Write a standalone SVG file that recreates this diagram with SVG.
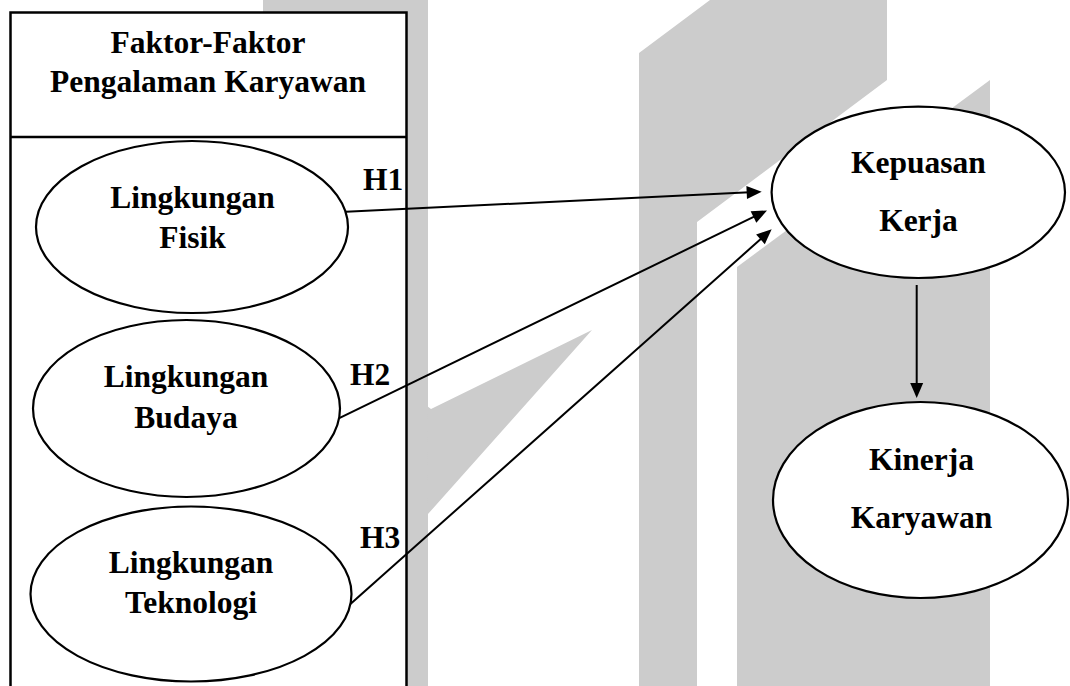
<svg xmlns="http://www.w3.org/2000/svg" width="1070" height="686" viewBox="0 0 1070 686">
<style>
.wm{fill:#cccccc;stroke:none}
.node{fill:#ffffff;stroke:#000000;stroke-width:2.2}
.box{fill:#ffffff;stroke:#000000;stroke-width:2.5}
text{font-family:'Liberation Serif','Times New Roman','DejaVu Serif',serif;font-weight:700;font-size:31.5px;fill:#000000}
.t{text-anchor:middle}
.edge{stroke:#000000;stroke-width:2;fill:none;marker-end:url(#ah)}
</style>
<defs>
<marker id="ah" markerUnits="userSpaceOnUse" markerWidth="16" markerHeight="14" refX="3" refY="6.5" orient="auto" overflow="visible">
<path d="M0,0 L15,6.5 L0,13 z" fill="#000000"/>
</marker>
</defs>
<rect width="1070" height="686" fill="#ffffff"/>
<g id="watermark">
<rect class="wm" x="263" y="0" width="165" height="686"/>
<polygon class="wm" points="427,406 431,409 592,330 428,514"/>
<polygon class="wm" points="639,686 639,53 710,0 887,0 887,80 697,222 697,686"/>
<polygon class="wm" points="737,686 737,267 990,80 990,686"/>
</g>
<g id="factor-box" font-family="Liberation Serif, serif">
<rect class="box" x="10.5" y="12.5" width="396" height="690"/>
<line x1="10.5" y1="137" x2="406.5" y2="137" stroke="#000" stroke-width="2.5"/>
<text class="t" x="208" y="53">Faktor-Faktor</text>
<text class="t" x="208" y="92">Pengalaman Karyawan</text>
</g>
<g id="connectors">
<line class="edge" x1="346" y1="211.7" x2="749.7" y2="192.3"/>
<line class="edge" x1="336.7" y1="419.3" x2="756.2" y2="215.7"/>
<line class="edge" x1="349.3" y1="605" x2="762.7" y2="237.3"/>
<line class="edge" x1="916.7" y1="285" x2="916.7" y2="386"/>
<text x="363" y="190">H1</text>
<text x="350" y="385">H2</text>
<text x="360" y="548">H3</text>
</g>
<g id="lingkungan-fisik">
<ellipse class="node" cx="192" cy="227" rx="156" ry="86"/>
<text class="t" x="192.5" y="208">Lingkungan</text>
<text class="t" x="192.5" y="248">Fisik</text>
</g>
<g id="lingkungan-budaya">
<ellipse class="node" cx="186.5" cy="408.5" rx="153.5" ry="88.5"/>
<text class="t" x="186" y="387">Lingkungan</text>
<text class="t" x="186" y="428">Budaya</text>
</g>
<g id="lingkungan-teknologi">
<ellipse class="node" cx="191" cy="594" rx="160.5" ry="87.5"/>
<text class="t" x="191" y="573">Lingkungan</text>
<text class="t" x="191" y="613">Teknologi</text>
</g>
<g id="kepuasan-kerja">
<ellipse class="node" cx="918.3" cy="192.3" rx="146.7" ry="85.7"/>
<text class="t" x="918.5" y="173">Kepuasan</text>
<text class="t" x="918.5" y="231">Kerja</text>
</g>
<g id="kinerja-karyawan">
<ellipse class="node" cx="920.5" cy="500" rx="147.5" ry="98"/>
<text class="t" x="921.5" y="470">Kinerja</text>
<text class="t" x="921.5" y="528">Karyawan</text>
</g>
</svg>
